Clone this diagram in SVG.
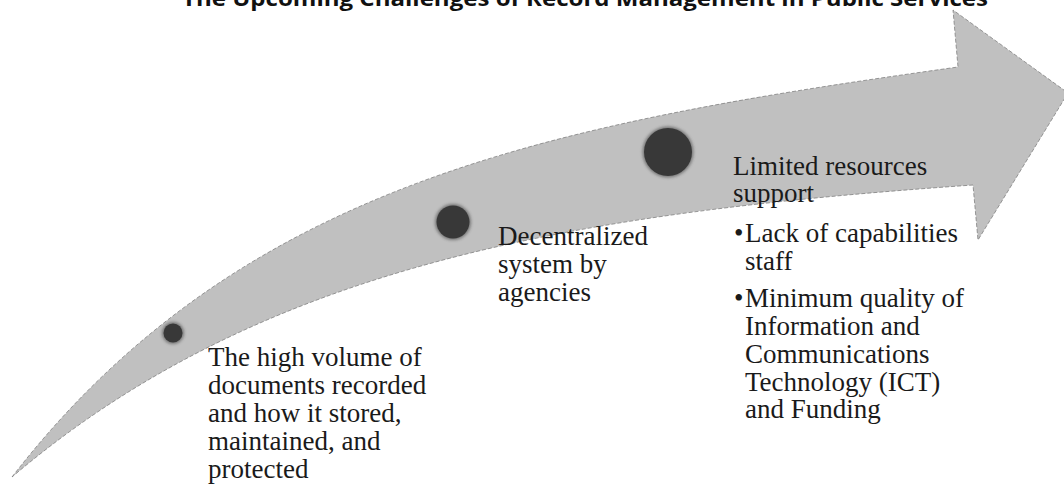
<svg xmlns="http://www.w3.org/2000/svg" width="1064" height="487" viewBox="0 0 1064 487">
  <defs>
    <filter id="soft" x="-50%" y="-50%" width="200%" height="200%">
      <feGaussianBlur stdDeviation="1.8"/>
    </filter>
    <style>
      .title { font-family: "Open Sans", "Liberation Sans", sans-serif; font-weight: 700; font-size: 22px; fill: #111; }
      .label { font-family: "Liberation Serif", "Times New Roman", serif; font-size: 27px; fill: #1a1a1a; }
      .arrow { fill: #c0c0c0; stroke: #808080; stroke-width: 0.8; stroke-dasharray: 4 2; }
      .dot { fill: #383838; }
      .halo { fill: #383838; opacity: 0.55; filter: url(#soft); }
    </style>
  </defs>

  <rect width="1064" height="487" fill="#ffffff"/>

  <!-- heading, partly above the top edge -->
  <text class="title" x="182" y="6" textLength="806" lengthAdjust="spacingAndGlyphs">The Upcoming Challenges of Record Management in Public Services</text>

  <!-- curved block arrow -->
  <g id="connectors">
    <path class="arrow" d="M12,477 C242,180 558,123 958,67 L953,10 L1068,93 L978,240 L973,185 C573,213 262,264.5 12,477 Z"/>
  </g>

  <!-- milestone 1 -->
  <g id="node-volume">
    <circle class="halo" cx="173" cy="333" r="11"/>
    <circle class="dot" cx="173" cy="333" r="9.5"/>
    <text class="label">
      <tspan x="208" y="366">The high volume of</tspan>
      <tspan x="208" y="394">documents recorded</tspan>
      <tspan x="208" y="422">and how it stored,</tspan>
      <tspan x="208" y="450">maintained, and</tspan>
      <tspan x="208" y="478">protected</tspan>
    </text>
  </g>

  <!-- milestone 2 -->
  <g id="node-decentralized">
    <circle class="halo" cx="453" cy="222" r="18"/>
    <circle class="dot" cx="453" cy="222" r="16.5"/>
    <text class="label">
      <tspan x="498" y="245">Decentralized</tspan>
      <tspan x="498" y="273">system by</tspan>
      <tspan x="498" y="301">agencies</tspan>
    </text>
  </g>

  <!-- milestone 3 -->
  <g id="node-resources">
    <circle class="halo" cx="668" cy="152" r="25.5"/>
    <circle class="dot" cx="668" cy="152" r="24"/>
    <text class="label">
      <tspan x="733" y="175">Limited resources</tspan>
      <tspan x="733" y="202">support</tspan>
      <tspan x="734" y="242">•</tspan><tspan x="745" y="242">Lack of capabilities</tspan>
      <tspan x="745" y="270">staff</tspan>
      <tspan x="734" y="307">•</tspan><tspan x="745" y="307">Minimum quality of</tspan>
      <tspan x="745" y="335">Information and</tspan>
      <tspan x="745" y="363">Communications</tspan>
      <tspan x="745" y="391">Technology (ICT)</tspan>
      <tspan x="745" y="418">and Funding</tspan>
    </text>
  </g>
</svg>
